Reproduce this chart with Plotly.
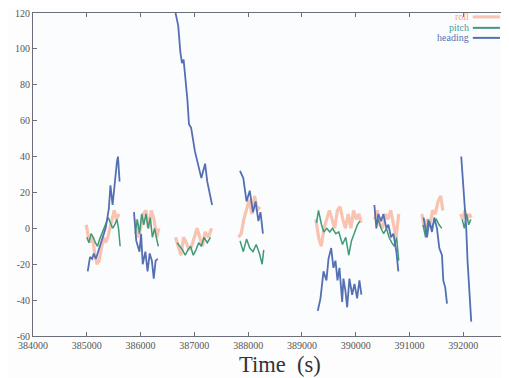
import plotly.graph_objects as go

# ---- data (segments separated by None) ----
heading_t = [385017, 385060, 385100, 385130, 385170, 385230, 385290, 385350, 385410, 385440, 385480, 385520, 385560, 385580, 385610, None,
             385877, 385920, 385980, 386010, 386040, 386090, 386130, 386170, 386210, 386245, 386280, 386320, None,
             386650, 386700, 386740, 386770, 386800, 386840, 386870, 386900, 386940, 387010, 387070, 387130, 387200, 387240, 387330, None,
             387848, 387910, 387970, 388030, 388090, 388140, 388190, 388230, 388275, None,
             389295, 389345, 389401, 389456, 389494, 389544, 389586, 389624, 389661, 389698, 389748, 389772, 389809, 389841, 389883, 389934, 389977, 390026, 390069, 390106, None,
             390347, 390384, 390421, 390471, 390514, 390570, 390607, 390657, 390700, 390756, 390793, None,
             391262, 391325, 391368, 391418, 391461, 391511, 391554, 391604, 391628, 391665, 391697, None,
             391962, 392005, 392036, 392055, 392079, 392116, 392148]
heading_v = [-24, -16, -17, -14, -17, -11, -6, 0, 11, 24, 13, 26, 37, 40, 26, None,
             9, -7, -13, -3, -20, -13, -24, -14, -18, -28, -18, -17, None,
             120, 113, 98, 92, 94, 83, 72, 58, 56, 43, 36, 28, 36, 26, 13, None,
             32, 28, 15, 21, 9, 15, 4, 9, -3, None,
             -46, -39, -24, -29, -17, -11, -22, -18, -29, -22, -41, -28, -35, -44, -28, -37, -31, -39, -29, -37, None,
             13, 0, 8, 4, 8, 0, 2, -5, -3, -13, -24, None,
             6, -5, 4, -2, 6, 0, -11, -15, -29, -33, -42, None,
             40, 21, 4, 0, -18, -35, -52]

pitch_t = [385000, 385040, 385080, 385120, 385160, 385200, 385240, 385280, 385320, 385360, 385400, 385440, 385480, 385520, 385560, 385590, 385620, None,
           385900, 385940, 385980, 386020, 386060, 386100, 386140, 386180, 386220, 386260, 386300, 386330, None,
           386680, 386730, 386780, 386830, 386880, 386930, 386980, 387030, 387080, 387130, 387180, 387240, 387300, None,
           387850, 387910, 387970, 388030, 388090, 388150, 388210, 388260, 388290, None,
           389271, 389308, 389364, 389406, 389462, 389518, 389568, 389629, 389685, 389754, 389815, 389871, 389921, 389964, 390032, 390075, None,
           390380, 390420, 390470, 390520, 390570, 390620, 390670, 390720, 390760, 390800, None,
           391250, 391300, 391350, 391400, 391450, 391500, 391550, 391600, None,
           391980, 392020, 392060, 392100, 392140]
pitch_v = [-5, -8, -3, -5, -8, -10, -6, -3, 0, 3, 6, 3, 0, 2, 5, 0, -10, None,
           -3, 5, -3, 8, 2, 8, 0, 6, -5, 0, -6, -10, None,
           -8, -10, -12, -15, -12, -10, -15, -12, -8, -10, -5, -8, -5, None,
           -7, -13, -6, -11, -13, -9, -14, -20, -12, None,
           3, 10, 2, -2, 0, -2, 0, -3, -2, -9, -5, -15, -7, -3, 2, 4, None,
           2, 5, 0, -3, 0, -5, -8, -10, -5, -18, None,
           2, -5, 5, 0, 3, 5, 2, 0, None,
           5, 0, 8, 2, 5]

roll_t = [384990, 385030, 385070, 385110, 385150, 385190, 385230, 385270, 385310, 385350, 385390, 385430, 385470, 385510, 385550, 385600, None,
          385900, 385950, 386000, 386050, 386100, 386150, 386200, 386250, 386300, 386340, None,
          386650, 386700, 386750, 386800, 386850, 386900, 386950, 387000, 387050, 387100, 387150, 387200, 387260, 387320, None,
          387820, 387870, 387920, 387970, 388020, 388070, 388120, 388170, 388220, None,
          389260, 389310, 389360, 389410, 389460, 389510, 389560, 389610, 389660, 389710, 389760, 389810, 389860, 389910, 389960, 390010, 390060, 390100, None,
          390350, 390400, 390450, 390500, 390550, 390600, 390650, 390700, 390750, 390800, None,
          391230, 391280, 391330, 391380, 391430, 391480, 391530, 391580, 391620, None,
          391950, 391990, 392030, 392070, 392110, 392150]
roll_v = [2, -5, -8, -5, -15, -20, -18, -10, -5, -8, -5, 0, 5, 10, 5, 8, None,
          5, -5, 0, 8, 10, 0, 10, 5, -5, 0, None,
          -5, -10, -15, -5, -8, -12, -10, -5, 0, -5, -10, -2, -5, 0, None,
          -5, -3, 5, 10, 16, 8, 18, 10, 12, None,
          5, -5, -10, 0, 5, 10, 5, 0, 10, 12, 5, 0, 8, 0, 10, 5, 8, 3, None,
          5, 10, 2, 0, 8, 5, 10, 2, -5, 8, None,
          8, 0, 5, 2, 10, 8, 15, 18, 10, None,
          8, 5, 10, 5, 8, 6]

series_names = ["roll", "pitch", "heading"]
x_ticks = [384000, 385000, 386000, 387000, 388000, 389000, 390000, 391000, 392000]
y_ticks = [-60, -40, -20, 0, 20, 40, 60, 80, 100, 120]

C_ROLL = "rgba(246,165,135,0.65)"
C_PITCH = "#3f9a78"
C_HEAD = "#5470b2"
TEXT_COLORS = ["#f4a488", "#3f9aa0", "#5470b2"]
LINE_COLORS = [C_ROLL, C_PITCH, C_HEAD]
SERIF = "Liberation Serif, DejaVu Serif, serif"

fig = go.Figure()
fig.add_trace(go.Scatter(x=roll_t, y=roll_v, mode="lines", connectgaps=False,
                         name=series_names[0], line=dict(color=C_ROLL, width=3.2)))
fig.add_trace(go.Scatter(x=pitch_t, y=pitch_v, mode="lines", connectgaps=False,
                         name=series_names[1], line=dict(color=C_PITCH, width=1.5)))
fig.add_trace(go.Scatter(x=heading_t, y=heading_v, mode="lines", connectgaps=False,
                         name=series_names[2], line=dict(color=C_HEAD, width=1.8)))

# custom legend (text to the left of the line sample, as in the original)
legend_y = [0.988, 0.954, 0.923]
annotations = []
shapes = []
for name, yy, tc, lc in zip(series_names, legend_y, TEXT_COLORS, LINE_COLORS):
    annotations.append(dict(text=name, xref="paper", yref="paper", x=0.92, y=yy,
                            xanchor="right", yanchor="middle", showarrow=False,
                            font=dict(family=SERIF, size=10, color=tc)))
    shapes.append(dict(type="line", xref="paper", yref="paper", x0=0.924, x1=0.981,
                       y0=yy, y1=yy, line=dict(color=lc, width=2 if name != "roll" else 3)))

annotations.append(dict(text="Time  (s)", xref="paper", yref="paper",
                        x=0.519, y=-0.089, xanchor="center", yanchor="middle",
                        showarrow=False,
                        font=dict(family=SERIF, size=22.5, color="#333")))

tickfont = dict(family=SERIF, size=10, color="#555")

# the page body has an 8px margin, so the figure is sized to fill the rest of the window
fig.update_layout(
    width=501, height=370,
    margin=dict(l=25, r=0, t=5, b=42),
    paper_bgcolor="#fdfdfd",
    plot_bgcolor="#fbfcfe",
    showlegend=False,
    xaxis=dict(range=[384000, 392850], tickvals=x_ticks,
               ticktext=[str(v) for v in x_ticks],
               showgrid=False, zeroline=False, automargin=False,
               ticklabeloverflow="allow",
               showline=True, linecolor="#6a6f7a", linewidth=1, mirror="ticks",
               ticks="inside", ticklen=4, tickcolor="#6a6f7a",
               tickfont=tickfont),
    yaxis=dict(range=[-60, 120], tickvals=y_ticks,
               ticktext=[str(v) for v in y_ticks],
               showgrid=False, zeroline=False, automargin=False,
               ticklabeloverflow="allow",
               showline=True, linecolor="#6a6f7a", linewidth=1, mirror=False,
               ticks="inside", ticklen=4, tickcolor="#6a6f7a",
               tickfont=tickfont),
    annotations=annotations,
    shapes=shapes,
)

fig.write_html("out.html")
